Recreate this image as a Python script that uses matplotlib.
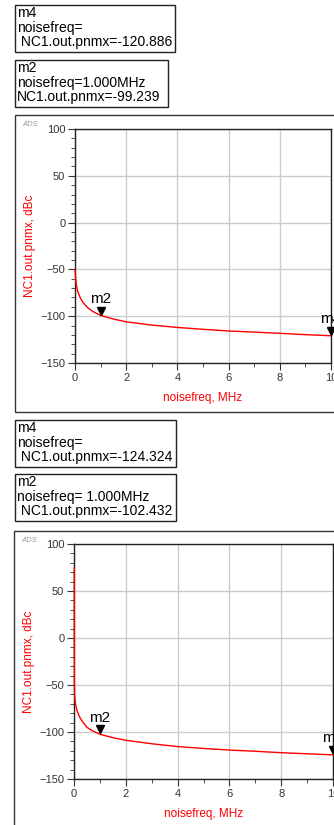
import matplotlib
matplotlib.use("Agg")
import matplotlib.pyplot as plt
from matplotlib.patches import Rectangle
from matplotlib.ticker import MultipleLocator
import matplotlib.transforms as mtransforms

plt.rcParams['font.family'] = ['Liberation Sans', 'DejaVu Sans']

W, H = 334, 825

# chart 1 data (noisefreq in MHz, phase noise in dBc)
freq1 = [0, 0.02, 0.05, 0.1, 0.2, 0.3, 0.5, 0.7, 1, 1.5, 2, 3, 4, 5, 6, 7, 8, 9, 10]
pn1 = [-50, -58, -66, -73, -80, -85, -91, -95, -99.239, -103, -106, -109.5,
       -112, -114, -115.8, -117, -118.3, -119.7, -120.886]

# chart 2 data
freq2 = [0.01, 0.012, 0.02, 0.05, 0.1, 0.2, 0.3, 0.5, 0.7, 1, 1.5, 2, 3, 4, 5,
         6, 7, 8, 9, 10]
pn2 = [75, -45, -60, -69, -76, -83, -88, -95, -98.5, -102.432, -106, -108.8,
       -112.5, -115.5, -117.5, -119.2, -120.5, -122, -123.2, -124.324]

# marker readouts
m2_freq = 1.0
m4_freq = 10.0
m2_val = [-99.239, -102.432]
m4_val = [-120.886, -124.324]

box_text = [
    ("m4\nnoisefreq=\n NC1.out.pnmx=-120.886", "m2\nnoisefreq=1.000MHz\nNC1.out.pnmx=-99.239"),
    ("m4\nnoisefreq=\n NC1.out.pnmx=-124.324", "m2\nnoisefreq= 1.000MHz\n NC1.out.pnmx=-102.432"),
]

fig = plt.figure(figsize=(W / 100, H / 100), dpi=100)


def px(x, y):
    # pixel (top-left origin) -> figure fraction
    return x / W, 1 - y / H


def box(x0, y0, x1, y1, txt):
    fx, fy = px(x0, y1)
    fig.patches.append(Rectangle((fx, fy), (x1 - x0) / W, (y1 - y0) / H,
                                 transform=fig.transFigure, fill=False,
                                 ec='#222222', lw=1))
    tx, ty = px(x0 + 2, y0 + 1)
    fig.text(tx, ty, txt, fontsize=10, va='top', ha='left', linespacing=1.05)


def chart(frame, ax_rect, freq, pn, v2, v4, boxes, boxpos):
    fx0, fy0, fh = frame
    fx, fy = px(fx0, fy0 + fh)
    fig.patches.append(Rectangle((fx, fy), 400 / W, fh / H,
                                 transform=fig.transFigure, fill=False,
                                 ec='#333333', lw=1))
    ax_x, ax_y = px(fx0 + 7, fy0 + 10)
    fig.text(ax_x, ax_y, "ADS", fontsize=5.5, color='#999999', style='italic',
             va='center', ha='left')
    for (b, t) in zip(boxpos, boxes):
        box(*b, t)

    l, t, r, btm = ax_rect
    x0, y0 = px(l, btm)
    ax = fig.add_axes([x0, y0, (r - l) / W, (btm - t) / H])
    ax.plot(freq, pn, color='red', lw=1, zorder=3, clip_on=False)
    ax.set_xlim(0, 10)
    ax.set_ylim(-150, 100)
    ax.xaxis.set_major_locator(MultipleLocator(2))
    ax.xaxis.set_minor_locator(MultipleLocator(1))
    ax.yaxis.set_major_locator(MultipleLocator(50))
    ax.yaxis.set_minor_locator(MultipleLocator(10))
    ax.grid(True, which='major', color='#cccccc', lw=1)
    ax.set_axisbelow(True)
    ax.tick_params(which='major', length=5, labelsize=8, labelcolor='#333333',
                   color='#333333', pad=2)
    ax.tick_params(which='minor', length=3, color='#333333')
    for s in ax.spines.values():
        s.set_color('#222222')
        s.set_linewidth(1)
    ax.set_xlabel("noisefreq, MHz", color='red', fontsize=8.5)
    ax.set_ylabel("NC1.out.pnmx, dBc", color='red', fontsize=8.5)
    ax.xaxis.set_label_coords(0.5, -35 / (btm - t))
    ax.yaxis.set_label_coords(-45 / (r - l), 0.5)
    ax.xaxis.label.set_va('center')
    ax.yaxis.label.set_va('center')

    for f, v, name in [(m2_freq, v2, "m2"), (m4_freq, v4, "m4")]:
        tr = mtransforms.offset_copy(ax.transData, fig=fig, x=0, y=3.5, units='points')
        ax.plot([f], [v], marker='v', color='black', ms=6, transform=tr,
                clip_on=False, zorder=4)
        ax.annotate(name, (f, v), xytext=(0, 7), textcoords='offset points',
                    ha='center', va='bottom', fontsize=11, annotation_clip=False)
    return ax


chart((15, 115, 297), (75, 129, 331, 363), freq1, pn1, m2_val[0], m4_val[0],
      box_text[0], [(15, 5, 175, 52), (15, 60, 168, 107)])
chart((14, 531, 300), (74, 544, 333, 779), freq2, pn2, m2_val[1], m4_val[1],
      box_text[1], [(15, 420, 176, 467), (15, 474, 176, 521)])

fig.savefig("out.png", dpi=100)
